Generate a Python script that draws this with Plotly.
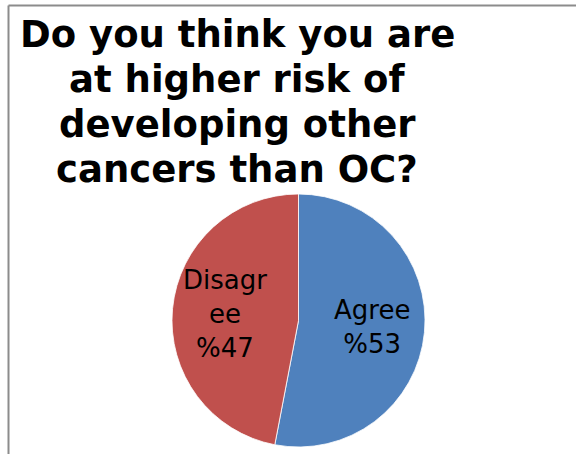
import math
import plotly.graph_objects as go

labels = ["Agree", "Disagree"]
display_labels = ["Agree", "Disagr<br>ee"]
values = [53, 47]
colors = ["#4F81BD", "#C0504D"]
title_lines = ["Do you think you are", "at higher risk of", "developing other", "cancers than OC?"]

W, H = 576, 454
# pie geometry (pixels)
PCX, PCY, PR = 298.5, 320.5, 126.5

fig = go.Figure(go.Pie(
    labels=labels,
    values=values,
    textinfo="none",
    marker=dict(colors=colors, line=dict(color="white", width=0.8)),
    sort=False,
    direction="clockwise",
    rotation=0,
    showlegend=False,
    hoverinfo="label+value",
    domain=dict(x=[(PCX - PR) / W, (PCX + PR) / W], y=[1 - (PCY + PR) / H, 1 - (PCY - PR) / H]),
))

annotations = []
mids = [34.5, 79.5, 124.5, 169.5]
for line, ym in zip(title_lines, mids):
    annotations.append(dict(
        text="<b>" + line + "</b>", x=237 / W, y=1 - ym / H,
        xref="paper", yref="paper", xanchor="center", yanchor="middle",
        showarrow=False, font=dict(family="DejaVu Sans", size=37, color="black"),
    ))

# slice labels placed at each slice's mid-angle
total = sum(values)
start = 0.0
for lab, v in zip(display_labels, values):
    frac = v / total
    mid = (start + frac / 2) * 2 * math.pi
    start += frac
    rr = 0.58 * PR
    lx = PCX + rr * math.sin(mid)
    ly = PCY - rr * math.cos(mid)
    annotations.append(dict(
        text=f"{lab}<br>%{v}", x=lx / W, y=1 - ly / H,
        xref="paper", yref="paper", xanchor="center", yanchor="middle",
        showarrow=False, font=dict(family="DejaVu Sans", size=26, color="black"),
    ))

shapes = [
    dict(type="line", xref="paper", yref="paper", x0=8.5 / W, x1=1, y0=1 - 5.5 / H, y1=1 - 5.5 / H,
         line=dict(color="#8c8c8c", width=2)),
    dict(type="line", xref="paper", yref="paper", x0=8.5 / W, x1=8.5 / W, y0=0, y1=1 - 5.5 / H,
         line=dict(color="#8c8c8c", width=2)),
]

fig.update_layout(
    width=W, height=H,
    margin=dict(l=0, r=0, t=0, b=0),
    paper_bgcolor="white",
    plot_bgcolor="white",
    annotations=annotations,
    shapes=shapes,
)

fig.write_html("out.html")
